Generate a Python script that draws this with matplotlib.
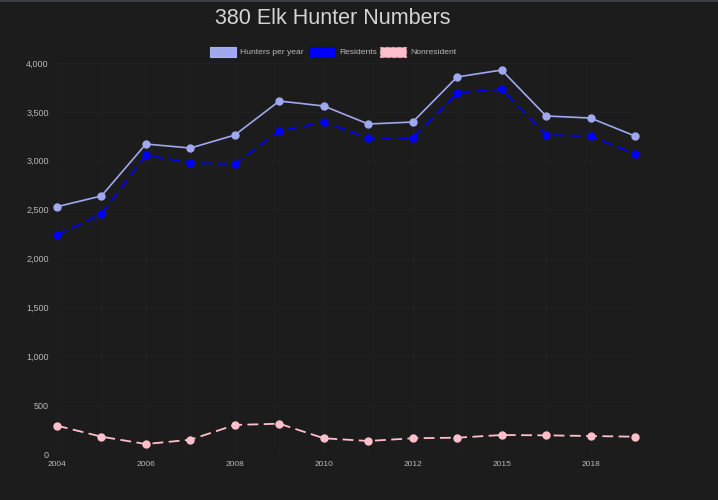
import matplotlib
matplotlib.use("Agg")
import matplotlib.pyplot as plt
from matplotlib.patches import Rectangle
from matplotlib.ticker import FuncFormatter, FixedLocator

years = ['2004', '2005', '2006', '2007', '2008', '2009', '2010', '2011',
         '2012', '2014', '2015', '2017', '2018', '2019']
hunters = [2530, 2640, 3171, 3130, 3263, 3611, 3560, 3376, 3396, 3857, 3928, 3458, 3437, 3253]
residents = [2240, 2455, 3059, 2977, 2967, 3304, 3396, 3233, 3233, 3693, 3734, 3263, 3253, 3069]
nonresident = [290, 177, 102, 146, 297, 310, 161, 133, 161, 167, 194, 191, 184, 177]
y_ticks = [0, 500, 1000, 1500, 2000, 2500, 3000, 3500, 4000]

BG = '#1c1c1c'
C_H = '#a0a8f0'
C_R = '#0000ff'
C_N = '#ffc0cb'
TXT = '#b8b8b8'

W, H = 718, 500
fig = plt.figure(figsize=(W / 100, H / 100), dpi=100, facecolor=BG)
plt.rcParams['font.family'] = ['Liberation Sans', 'DejaVu Sans']

# top border strip
fig.patches.append(Rectangle((0, 1 - 2 / H), 1, 2 / H, transform=fig.transFigure,
                             facecolor='#3c3f43', edgecolor='none'))

left, right, top, bottom = 57, 635, 63, 454
ax = fig.add_axes([left / W, 1 - bottom / H, (right - left) / W, (bottom - top) / H])
ax.set_facecolor(BG)

x = list(range(len(years)))
ax.plot(x, hunters, color=C_H, lw=1.2, marker='o', ms=5, mfc=C_H, mec=C_H, zorder=3, clip_on=False)
ax.plot(x, residents, color=C_R, lw=1.3, ls=(0, (6, 3)), marker='o', ms=5, mfc=C_R, mec=C_R, zorder=3, clip_on=False)
ax.plot(x, nonresident, color=C_N, lw=1.3, ls=(0, (6, 3)), marker='o', ms=5, mfc=C_N, mec=C_N, zorder=3, clip_on=False)

ax.set_xlim(0, len(years) - 1)
ax.set_ylim(0, 4000)
ax.yaxis.set_major_locator(FixedLocator(y_ticks))
ax.yaxis.set_major_formatter(FuncFormatter(lambda v, p: f'{int(v):,}'))
ax.set_xticks(x[::2])
ax.set_xticklabels(years[::2])
ax.tick_params(axis='y', colors=TXT, labelsize=6.5, length=0, pad=6)
ax.tick_params(axis='x', colors=TXT, labelsize=6, length=0, pad=5)
for lab in ax.get_xticklabels() + ax.get_yticklabels():
    lab.set_color(TXT)
ax.set_xticks(x, minor=True)
ax.grid(True, which='both', color='#202020', lw=0.7)
ax.set_axisbelow(True)
ax.tick_params(which='minor', length=0)
for s in ax.spines.values():
    s.set_visible(False)

fig.text(333 / W, 1 - 19 / H, '380 Elk Hunter Numbers', ha='center', va='center',
         color='#d4d4d4', fontsize=15.5)

# legend
ly = 52
bh = 9
items = [(210, 'Hunters per year', C_H, '#a8b0f5', 'solid'),
         (309, 'Residents', C_R, '#0000cc', 'dashed'),
         (380, 'Nonresident', C_N, '#e0a0aa', 'dashed')]
for bx, lab, fc, ec, ls in items:
    fig.patches.append(Rectangle((bx / W, 1 - (ly + bh / 2) / H), 26 / W, bh / H,
                                 transform=fig.transFigure, facecolor=fc, edgecolor=ec,
                                 lw=0.8, ls=ls))
    fig.text((bx + 30) / W, 1 - ly / H, lab, ha='left', va='center', color=TXT, fontsize=6.1)

fig.savefig('out.png', dpi=100, facecolor=BG)
